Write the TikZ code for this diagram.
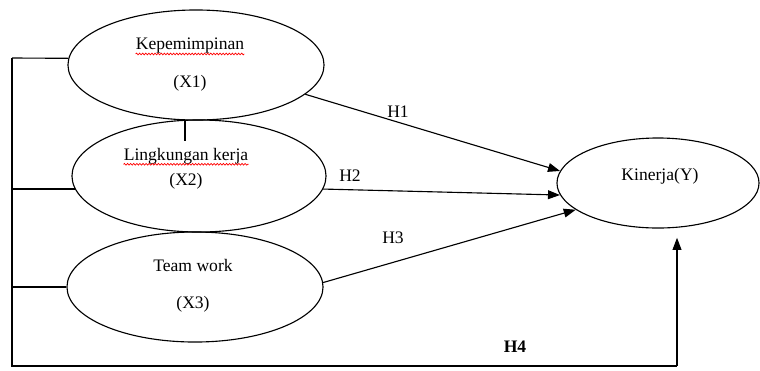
\documentclass[tikz,border=0pt]{standalone}
\usepackage{fontspec}
\setmainfont{Liberation Serif}
\usetikzlibrary{shapes.geometric,arrows.meta,calc,decorations.pathmorphing}

\begin{document}
\begin{tikzpicture}[x=0.025cm,y=-0.025cm,font=\rmfamily\fontsize{12.5}{15}\selectfont,
 v/.style={draw,ellipse,line width=0.8pt,inner sep=0pt},
 t/.style={inner sep=0pt},
 l/.style={line width=0.8pt},
 a/.style={-{Triangle[length=3mm,width=2.2mm]},line width=0.8pt},
 w/.style={red,line width=0.5pt,decorate,decoration={snake,amplitude=0.6pt,segment length=2.2pt}}]
\useasboundingbox (0,0) rectangle (760,370);
% X1
\node[v,minimum width=6.4cm,minimum height=2.75cm] (x1) at (196,65) {};
\node[t] (x1a) at (190,46) {Kepemimpinan};
\node[t] (x1b) at (190,83) {(X1)};
\draw[w] (x1a.south west) -- (x1a.south east);
% X2
\node[v,minimum width=6.35cm,minimum height=2.8cm] (x2) at (199,176) {};
\node[t] (x2a) at (186,156) {Lingkungan kerja};
\node[t] (x2b) at (186,181) {(X2)};
\draw[w] (x2a.south west) -- (x2a.south east);
% X3
\node[v,minimum width=6.4cm,minimum height=2.75cm] (x3) at (195,287) {};
\node[t] (x3a) at (193,265) {Team work};
\node[t] (x3b) at (193,304) {(X3)};
% Y
\node[v,minimum width=5.05cm,minimum height=2.25cm] (y) at (658,183) {};
\node[t] (ya) at (660,176) {Kinerja(Y)};
% hypotheses
\draw[a] (x1.-15) -- (y.173);
\draw[a] (x2.-6) -- (y.187);
\draw[a] (x3.2) -- (y.198);
\node[t] (h1) at (398,112) {H1};
\node[t] (h2) at (350,176) {H2};
\node[t] (h3) at (393,238) {H3};
\node[t] (h4) at (515,347) {\textbf{H4}};
% simultaneous
\coordinate (bt) at (12,58);
\coordinate (bl) at (12,366);
\coordinate (br) at (677,366);
\draw[l] (bt) -- (bl) -- (br);
\draw[a,shorten >=0.23cm] (br) -- (br |- y.south);
\draw[l] (bt) -- (x1.177);
\draw[l] (bl |- x2.186) -- (x2.186);
\draw[l] (bl |- x3.west) -- (x3.west);
\draw[l] ($(x1.south)+(-11,0)$) -- ++(0,20);
\end{tikzpicture}
\end{document}
